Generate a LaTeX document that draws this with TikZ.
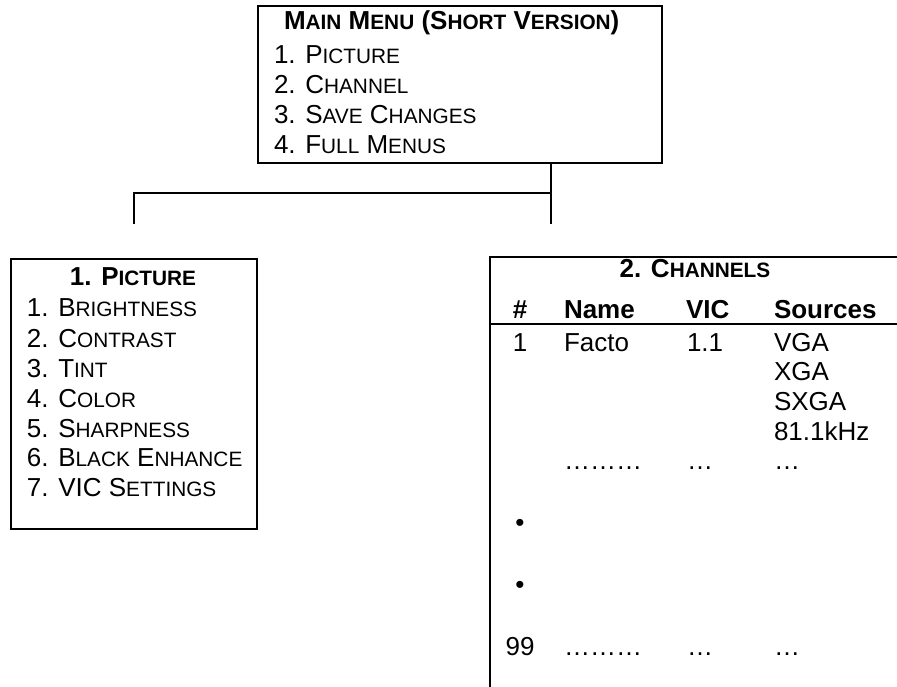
\documentclass[tikz,border=0pt]{standalone}
\usepackage{fontspec}
\setmainfont{Liberation Sans}
\newcommand\smc[1]{{\fontsize{20.8pt}{20.8pt}\selectfont #1}}
\begin{document}
\begin{tikzpicture}[x=1pt,y=-1pt,line width=2pt,
  txt/.style={anchor=base west,inner sep=0pt,font=\fontsize{26pt}{30pt}\selectfont},
  ttl/.style={anchor=base,inner sep=0pt,font=\fontsize{26pt}{30pt}\selectfont\bfseries},
  hdr/.style={anchor=base west,inner sep=0pt,font=\fontsize{26pt}{30pt}\selectfont\bfseries},
  col/.style={anchor=base,inner sep=0pt,font=\fontsize{26pt}{30pt}\selectfont},
  box/.style={draw,line width=2pt,inner sep=0pt,anchor=north west}]
\useasboundingbox (0,0) rectangle (897,687);

% main menu
\node[box,minimum width=404pt,minimum height=157pt] (main) at (257,5) {};
\node[hdr] (mt) at (283,30) {M\smc{AIN} M\smc{ENU} (S\smc{HORT} V\smc{ERSION})};
\node[txt] (m1) at (273,64) {1. P\smc{ICTURE}};
\node[txt] (m2) at (273,94) {2. C\smc{HANNEL}};
\node[txt] (m3) at (273,124) {3. S\smc{AVE} C\smc{HANGES}};
\node[txt] (m4) at (273,154) {4. F\smc{ULL} M\smc{ENUS}};

% connectors
\coordinate (jr) at (551,193);
\coordinate (jl) at (134,193);
\coordinate (er) at (551,224);
\coordinate (el) at (134,224);
\draw (main.south -| jr) -- (er);
\draw (jr) -- (jl) -- (el);

% picture box
\node[box,minimum width=246pt,minimum height=270pt] (pic) at (10,258) {};
\node[ttl] (pt) at (133,285) {1. P\smc{ICTURE}};
\node[txt] (p1) at (26,316) {1. B\smc{RIGHTNESS}};
\node[txt] (p2) at (26,347) {2. C\smc{ONTRAST}};
\node[txt] (p3) at (26,377) {3. T\smc{INT}};
\node[txt] (p4) at (26,407) {4. C\smc{OLOR}};
\node[txt] (p5) at (26,437) {5. S\smc{HARPNESS}};
\node[txt] (p6) at (26,466) {6. B\smc{LACK} E\smc{NHANCE}};
\node[txt] (p7) at (26,496) {7. VIC S\smc{ETTINGS}};

% channels box (open at the bottom and right)
\coordinate (cbl) at (490,687);
\coordinate (ctl) at (490,257);
\coordinate (ctr) at (897,257);
\coordinate (crl) at (490,324);
\coordinate (crr) at (897,324);
\draw (cbl) -- (ctl) -- (ctr);
\draw (crl) -- (crr);
\node[ttl] (ct) at (695,277) {2. C\smc{HANNELS}};
\node[ttl] (h1) at (520,318) {\#};
\node[hdr] (h2) at (563,318) {Name};
\node[hdr] (h3) at (685,318) {VIC};
\node[hdr] (h4) at (773,318) {Sources};
\node[col] (r1a) at (520,351) {1};
\node[txt] (r1b) at (563,351) {Facto};
\node[txt] (r1c) at (686,351) {1.1};
\node[txt] (r1d) at (773,351) {VGA};
\node[txt] (r2d) at (773,380) {XGA};
\node[txt] (r3d) at (773,410) {SXGA};
\node[txt] (r4d) at (773,440) {81.1kHz};
\node[txt] (r5b) at (563,469) {………};
\node[txt] (r5c) at (686,469) {…};
\node[txt] (r5d) at (773,469) {…};
\node[col] (b1) at (520,531) {•};
\node[col] (b2) at (520,593) {•};
\node[col] (r9a) at (520,655) {99};
\node[txt] (r9b) at (563,655) {………};
\node[txt] (r9c) at (686,655) {…};
\node[txt] (r9d) at (773,655) {…};
\end{tikzpicture}
\end{document}
